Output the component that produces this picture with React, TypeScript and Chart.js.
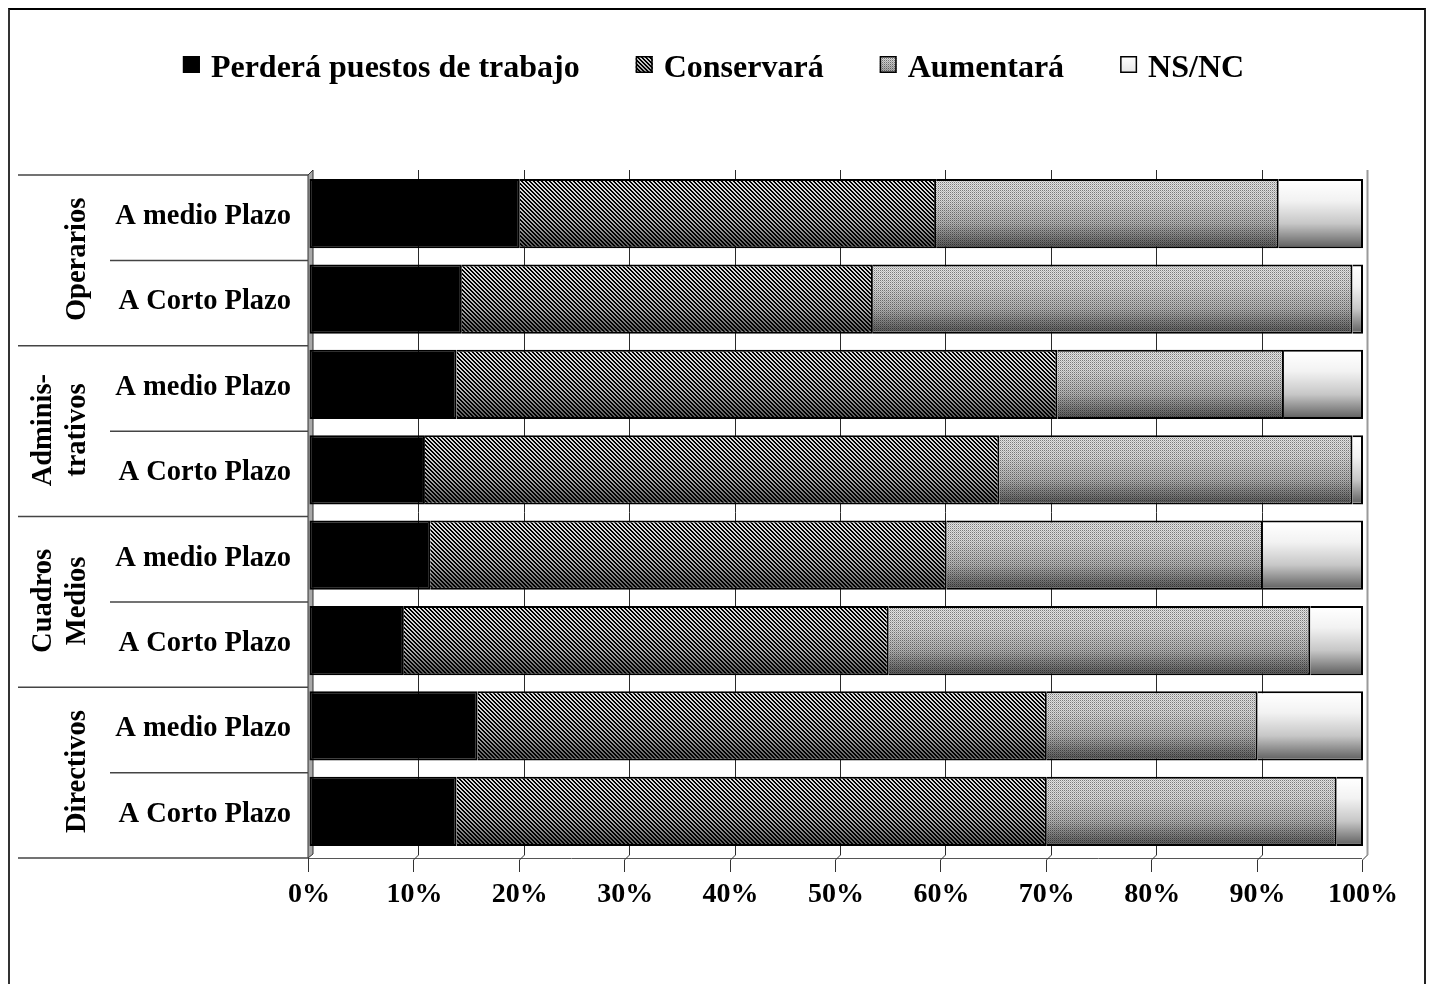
import React, { useEffect, useRef } from 'react';
import { Chart, registerables } from 'chart.js';

Chart.register(...registerables);

// ---------- data ----------
const rowLabels = [
  'A medio Plazo', 'A Corto Plazo',
  'A medio Plazo', 'A Corto Plazo',
  'A medio Plazo', 'A Corto Plazo',
  'A medio Plazo', 'A Corto Plazo',
];
const groupLabels = [['Operarios'], ['Adminis-', 'trativos'], ['Cuadros', 'Medios'], ['Directivos']];
const seriesNames = ['Perderá puestos de trabajo', 'Conservará', 'Aumentará', 'NS/NC'];
const perdera = [20, 14.5, 14, 11, 11.5, 9, 16, 14];
const conservara = [39.5, 39, 57, 54.5, 49, 46, 54, 56];
const aumentara = [32.5, 45.5, 21.5, 33.5, 30, 40, 20, 27.5];
const nsnc = [8, 1, 7.5, 1, 9.5, 5, 10, 2.5];
const xTickLabels = ['0%', '10%', '20%', '30%', '40%', '50%', '60%', '70%', '80%', '90%', '100%'];

const SERIF = '"Liberation Serif", "Times New Roman", serif';

function makeTile(size: number, draw: (c: CanvasRenderingContext2D) => void) {
  const t = document.createElement('canvas');
  t.width = size;
  t.height = size;
  const c = t.getContext('2d')!;
  draw(c);
  return c.createPattern(t, 'repeat')!;
}

function makePatterns() {
  const hatch = makeTile(4, (c) => {
    c.fillStyle = '#dcdcdc';
    c.fillRect(0, 0, 4, 4);
    c.fillStyle = '#000';
    for (let y = 0; y < 4; y++) {
      for (let x = 0; x < 4; x++) {
        const d = (x - y + 8) % 4;
        if (d === 0 || d === 1) c.fillRect(x, y, 1, 1);
      }
    }
  });
  const dots = makeTile(2, (c) => {
    c.fillStyle = '#e4e4e4';
    c.fillRect(0, 0, 2, 2);
    c.fillStyle = '#7c7c7c';
    c.fillRect(0, 0, 1, 1);
    c.fillStyle = '#b8b8b8';
    c.fillRect(1, 1, 1, 1);
  });
  return { hatch, dots };
}

export default function App() {
  const ref = useRef<HTMLCanvasElement | null>(null);

  useEffect(() => {
    const canvas = ref.current;
    if (!canvas) return;
    const { hatch, dots } = makePatterns();
    const fills: any[] = ['#000000', hatch, dots, '#ffffff'];

    const decor = {
      id: 'decor',
      beforeDatasetsDraw(chart: any) {
        const { ctx, chartArea: ca, scales } = chart;
        const x = scales.x;
        ctx.save();
        // left wall
        ctx.fillStyle = '#a8a8a8';
        ctx.strokeStyle = '#333';
        ctx.lineWidth = 1;
        ctx.beginPath();
        ctx.moveTo(ca.left - 1, ca.top + 4);
        ctx.lineTo(ca.left + 4, ca.top - 1);
        ctx.lineTo(ca.left + 4, ca.bottom);
        ctx.lineTo(ca.left - 1, ca.bottom + 4);
        ctx.closePath();
        ctx.fill();
        ctx.stroke();
        // back gridlines
        for (let v = 10; v <= 100; v += 10) {
          const px = Math.round(x.getPixelForValue(v)) + 4.5;
          ctx.strokeStyle = v === 100 ? '#9a9a9a' : '#2a2a2a';
          ctx.lineWidth = v === 100 ? 2 : 1;
          ctx.beginPath();
          ctx.moveTo(px, ca.top - 1);
          ctx.lineTo(px, ca.bottom + 1);
          ctx.stroke();
        }
        ctx.restore();
      },
      afterDatasetsDraw(chart: any) {
        const { ctx } = chart;
        ctx.save();
        for (let d = 1; d <= 3; d++) {
          const meta = chart.getDatasetMeta(d);
          meta.data.forEach((el: any) => {
            const p = el.getProps(['x', 'y', 'base', 'height'], true);
            const left = Math.min(p.base, p.x);
            const right = Math.max(p.base, p.x) - 2;
            const top = p.y - p.height / 2 + 2;
            const bottom = p.y + p.height / 2 - 2;
            if (right <= left) return;
            const g = ctx.createLinearGradient(0, top, 0, bottom);
            g.addColorStop(0, 'rgba(0,0,0,0)');
            g.addColorStop(0.3, 'rgba(0,0,0,0.05)');
            g.addColorStop(0.65, 'rgba(0,0,0,0.22)');
            g.addColorStop(1, 'rgba(0,0,0,0.6)');
            ctx.fillStyle = g;
            ctx.fillRect(left, top, right - left, bottom - top);
          });
        }
        ctx.restore();
      },
      afterDraw(chart: any) {
        const { ctx, chartArea: ca, scales } = chart;
        const x = scales.x;
        const y = scales.y;
        const rowH = y.getPixelForValue(1) - y.getPixelForValue(0);
        const boundary = (k: number) => ca.top + k * rowH + 4;
        ctx.save();

        // floor + front ticks
        ctx.strokeStyle = '#555';
        ctx.lineWidth = 1;
        const fy = Math.round(ca.bottom + 4) + 0.5;
        ctx.beginPath();
        ctx.moveTo(ca.left - 1, fy);
        ctx.lineTo(Math.round(x.getPixelForValue(100)) - 1, fy);
        ctx.stroke();
        ctx.strokeStyle = '#333';
        for (let v = 0; v <= 100; v += 10) {
          const px = Math.round(x.getPixelForValue(v));
          ctx.beginPath();
          if (v > 0) {
            ctx.moveTo(px + 4.5, ca.bottom + 1);
            ctx.lineTo(px - 0.5, ca.bottom + 6);
          } else {
            ctx.moveTo(px - 0.5, ca.bottom + 4);
          }
          ctx.lineTo(px - 0.5, ca.bottom + 18);
          ctx.stroke();
        }

        // category separators
        ctx.strokeStyle = '#444';
        ctx.lineWidth = 1.5;
        for (let k = 0; k <= rowLabels.length; k++) {
          const yy = boundary(k);
          const x0 = k % 2 === 0 ? 8 : 100;
          ctx.beginPath();
          ctx.moveTo(x0, yy);
          ctx.lineTo(ca.left - 1, yy);
          ctx.stroke();
        }

        // group labels (rotated)
        ctx.fillStyle = '#000';
        ctx.font = `bold 28.5px ${SERIF}`;
        ctx.textAlign = 'center';
        ctx.textBaseline = 'alphabetic';
        groupLabels.forEach((lines, g) => {
          const cy = (boundary(2 * g) + boundary(2 * g + 2)) / 2 - 1;
          const baseXs = lines.length === 1 ? [75] : [41, 75];
          lines.forEach((ln, i) => {
            ctx.save();
            ctx.translate(baseXs[i], cy);
            ctx.rotate(-Math.PI / 2);
            ctx.fillText(ln, 0, 0);
            ctx.restore();
          });
        });

        // legend
        ctx.font = `bold 32px ${SERIF}`;
        ctx.textAlign = 'left';
        const box = 17;
        const gap = 11;
        const itemGap = 56;
        const widths = seriesNames.map((s) => ctx.measureText(s).width);
        const total = widths.reduce((a, w) => a + box + gap + w, 0) + itemGap * (seriesNames.length - 1);
        let lx = 703.5 - total / 2;
        const boxTop = 46;
        const baseY = 67;
        seriesNames.forEach((s, i) => {
          ctx.fillStyle = fills[i];
          ctx.fillRect(lx, boxTop, box, box);
          if (i > 0) {
            const g = ctx.createLinearGradient(0, boxTop, 0, boxTop + box);
            g.addColorStop(0, 'rgba(0,0,0,0)');
            g.addColorStop(1, i === 3 ? 'rgba(0,0,0,0.1)' : 'rgba(0,0,0,0.3)');
            ctx.fillStyle = g;
            ctx.fillRect(lx, boxTop, box, box);
          }
          ctx.strokeStyle = '#000';
          ctx.lineWidth = 1.5;
          ctx.strokeRect(lx + 0.75, boxTop + 0.75, box - 1.5, box - 1.5);
          ctx.fillStyle = '#000';
          ctx.fillText(s, lx + box + gap, baseY);
          lx += box + gap + widths[i] + itemGap;
        });

        ctx.restore();
      },
    };

    const seriesData = [perdera, conservara, aumentara, nsnc];
    const chart = new Chart(canvas, {
      type: 'bar',
      data: {
        labels: rowLabels,
        datasets: seriesData.map((vals, i) => ({
          label: seriesNames[i],
          data: vals,
          backgroundColor: fills[i],
          borderColor: '#000',
          borderWidth: { top: 2, right: 2, bottom: 2, left: i === 0 ? 2 : 0 },
          borderSkipped: false,
          categoryPercentage: 1,
          barPercentage: 0.81,
        })),
      },
      options: {
        indexAxis: 'y',
        responsive: false,
        animation: false,
        layout: { padding: { top: 161, right: 61, left: 0, bottom: 0 } },
        plugins: {
          legend: { display: false },
          tooltip: { enabled: false },
          title: { display: false },
        },
        scales: {
          x: {
            stacked: true,
            min: 0,
            max: 100,
            ticks: {
              stepSize: 10,
              padding: 5.7,
              color: '#000',
              font: { family: SERIF, size: 28, weight: 'bold' },
              callback: (_v: any, i: number) => xTickLabels[i],
            },
            grid: { color: 'rgba(0,0,0,0)', drawOnChartArea: false, tickLength: 18 },
            border: { display: false },
            afterFit: (s: any) => {
              s.height = 126;
            },
          },
          y: {
            stacked: true,
            ticks: {
              padding: 10,
              labelOffset: 3,
              color: '#000',
              font: { family: SERIF, size: 28.5, weight: 'bold' },
            },
            grid: { display: false },
            border: { display: false },
            afterFit: (s: any) => {
              s.width = 299;
            },
          },
        },
      } as any,
      plugins: [decor],
    });
    return () => chart.destroy();
  }, []);

  return (
    <div
      style={{
        position: 'fixed',
        left: 8,
        top: 8,
        width: 1418,
        height: 990,
        boxSizing: 'border-box',
        borderLeft: '2px solid #333',
        borderTop: '2px solid #000',
        borderRight: '2px solid #222',
        background: '#fff',
      }}
    >
      <canvas ref={ref} width={1414} height={970} style={{ display: 'block' }} />
    </div>
  );
}
